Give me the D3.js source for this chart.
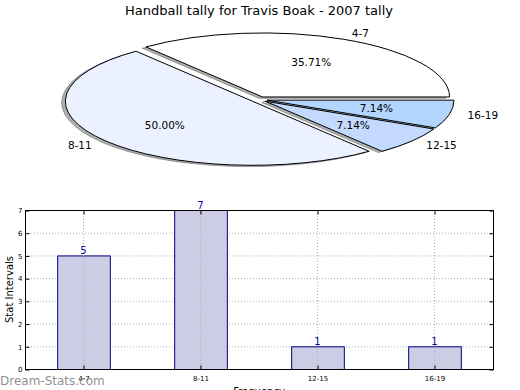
<!DOCTYPE html>
<html><head><meta charset="utf-8">
<script src="https://cdn.jsdelivr.net/npm/d3@7"></script>
<style>body{margin:0;background:#fff}svg{display:block;font-family:"DejaVu Sans",sans-serif}</style>
</head><body><svg id="c" width="520" height="390"></svg>
<script>
const title = "Handball tally for Travis Boak - 2007 tally";
const categories = ["4-7", "8-11", "12-15", "16-19"];
const values = [5, 7, 1, 1];
const pieColors = ["#ffffff", "#ebf1fe", "#c3d9ff", "#b3d6ff"];
const yTicks = [0, 1, 2, 3, 4, 5, 6, 7];
const xLabel = "Frequency", yLabel = "Stat Intervals", watermark = "Dream-Stats.com";

const svg = d3.select("#c");

// ---------- Pie ----------
const cx = 259, cy = 99.5, rx = 187, ry = 64, R = 100, explode = 0.044;
const total = d3.sum(values);
const pie = d3.pie().sort(null).startAngle(Math.PI / 2).endAngle(Math.PI / 2 - 2 * Math.PI);
const arcs = pie(values);
const arc = d3.arc().innerRadius(0).outerRadius(R);
svg.append("text").attr("x", 259).attr("y", 15).attr("text-anchor", "middle")
  .attr("font-size", 13).text(title);
const off = a => { const m = (a.startAngle + a.endAngle) / 2; return [Math.sin(m), -Math.cos(m)]; };
const pg = svg.append("g");
arcs.forEach((a, i) => {
  const [ux, uy] = off(a);
  const ox = cx + explode * rx * ux - 3.7, oy = cy + explode * ry * uy + 1.3;
  pg.append("path").attr("d", arc(a))
    .attr("transform", `translate(${ox},${oy}) scale(${rx / R},${ry / R})`)
    .attr("fill", "#4d4d4d").attr("fill-opacity", 0.45)
    .attr("stroke", "#4d4d4d").attr("stroke-opacity", 0.45).attr("stroke-width", 1)
    .attr("vector-effect", "non-scaling-stroke");
});
arcs.forEach((a, i) => {
  const [ux, uy] = off(a);
  const ox = cx + explode * rx * ux, oy = cy + explode * ry * uy;
  pg.append("path").attr("d", arc(a))
    .attr("transform", `translate(${ox},${oy}) scale(${rx / R},${ry / R})`)
    .attr("fill", pieColors[i]).attr("stroke", "#000").attr("stroke-width", 1)
    .attr("vector-effect", "non-scaling-stroke");
  const lx = ox + 1.1 * rx * ux, ly = oy + 1.1 * ry * uy;
  pg.append("text").attr("x", lx).attr("y", ly).attr("dy", "0.35em")
    .attr("text-anchor", ux > 0 ? "start" : "end").attr("font-size", 10.5).text(categories[i]);
  const px = ox + 0.6 * rx * ux, py = oy + 0.6 * ry * uy;
  pg.append("text").attr("x", px).attr("y", py).attr("dy", "0.35em")
    .attr("text-anchor", "middle").attr("font-size", 10.5)
    .text((values[i] / total * 100).toFixed(2) + "%");
});

// ---------- Bars ----------
const L = 25, Rr = 493, T = 210, B = 369;
const x = d3.scaleBand().domain(categories).range([L, Rr]).paddingInner(0.55).paddingOuter(0.275);
const y = d3.scaleLinear().domain([0, 7]).range([B, T]);
const bg = svg.append("g");
const grid = "#b0b0b0";
bg.selectAll(".hg").data(yTicks.slice(1, -1)).join("line")
  .attr("x1", L).attr("x2", Rr).attr("y1", d => y(d) + 0.5).attr("y2", d => y(d) + 0.5)
  .attr("stroke", grid).attr("stroke-dasharray", "1,2");
bg.selectAll(".bar").data(values).join("rect")
  .attr("x", (d, i) => x(categories[i]) + 0.5).attr("y", d => y(d) + 0.5)
  .attr("width", x.bandwidth()).attr("height", d => B - y(d))
  .attr("fill", "#ccccE5").attr("stroke", "#000080").attr("stroke-width", 1);
bg.selectAll(".vg").data(categories).join("line")
  .attr("x1", d => Math.round(x(d) + x.bandwidth() / 2) + 0.5).attr("x2", d => Math.round(x(d) + x.bandwidth() / 2) + 0.5)
  .attr("y1", T).attr("y2", B)
  .attr("stroke", grid).attr("stroke-dasharray", "1,2");
bg.selectAll(".val").data(values).join("text")
  .attr("x", (d, i) => x(categories[i]) + x.bandwidth() / 2).attr("y", d => y(d) - 1)
  .attr("text-anchor", "middle").attr("font-size", 10).attr("fill", "#0000aa").text(d => d);
const ya = d3.axisLeft(y).tickValues(yTicks).tickFormat(d3.format("d")).tickSize(-4).tickPadding(3);
bg.append("g").attr("transform", `translate(${L + 0.5},0.5)`).call(ya)
  .call(g => { g.select(".domain").remove(); g.selectAll("text").attr("font-size", 7).attr("font-family", "DejaVu Sans"); });
bg.append("g").attr("transform", `translate(${Rr + 0.5},0.5)`).call(d3.axisRight(y).tickValues(yTicks).tickSize(-4).tickFormat(""))
  .call(g => g.select(".domain").remove());
const xa = d3.axisBottom(x).tickSize(-4).tickPadding(7);
bg.append("g").attr("transform", `translate(0.5,${B + 0.5})`).call(xa)
  .call(g => { g.select(".domain").remove(); g.selectAll("text").attr("font-size", 7).attr("font-family", "DejaVu Sans"); });
bg.append("g").attr("transform", `translate(0.5,${T + 0.5})`).call(d3.axisTop(x).tickSize(-4).tickFormat(""))
  .call(g => g.select(".domain").remove());
bg.append("rect").attr("x", L + 0.5).attr("y", T + 0.5).attr("width", Rr - L).attr("height", B - T)
  .attr("fill", "none").attr("stroke", "#000");
svg.append("text").attr("x", 259).attr("y", 395).attr("text-anchor", "middle").attr("font-size", 10).text(xLabel);
svg.append("text").attr("transform", `translate(13,${(T + B) / 2}) rotate(-90)`).attr("text-anchor", "middle")
  .attr("font-size", 10).text(yLabel);
svg.append("text").attr("x", 0).attr("y", 385).attr("font-size", 12)
  .attr("fill", "#7a7a7a").attr("fill-opacity", 0.85).text(watermark);
</script></body></html>
